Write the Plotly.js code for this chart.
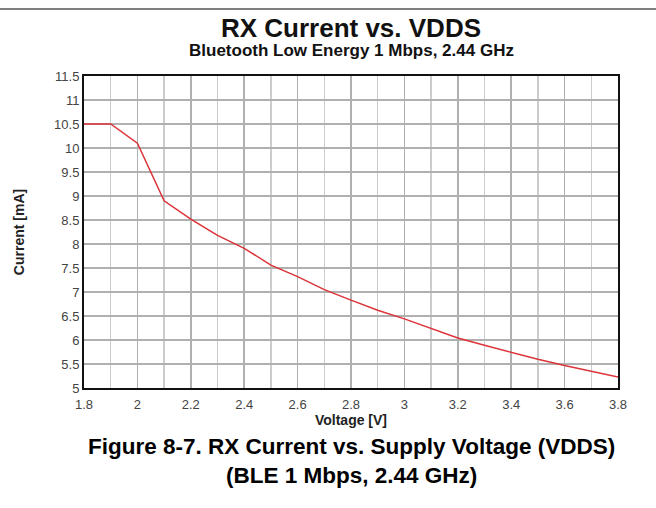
<!DOCTYPE html>
<html>
<head>
<meta charset="utf-8">
<script src="https://cdn.plot.ly/plotly-3.0.1.min.js"></script>
<style>
  html, body { margin: 0; padding: 0; background: #fff; }
  #chart { width: 656px; height: 508px; }
</style>
</head>
<body>
<div id="chart"></div>
<script>
const voltage = [1.8, 1.9, 2.0, 2.1, 2.2, 2.3, 2.4, 2.5, 2.6, 2.7, 2.8, 2.9, 3.0, 3.1, 3.2, 3.3, 3.4, 3.5, 3.6, 3.7, 3.8];
const currentMA = [10.5, 10.5, 10.1, 8.9, 8.52, 8.18, 7.91, 7.56, 7.32, 7.05, 6.83, 6.62, 6.44, 6.24, 6.04, 5.89, 5.74, 5.6, 5.47, 5.35, 5.23];

const chartTitle = 'RX Current vs. VDDS';
const chartSubtitle = 'Bluetooth Low Energy 1 Mbps, 2.44 GHz';
const xTitle = 'Voltage [V]';
const yTitle = 'Current [mA]';
const captionLine1 = 'Figure 8-7. RX Current vs. Supply Voltage (VDDS)';
const captionLine2 = '(BLE 1 Mbps, 2.44 GHz)';

const FONT = '"Liberation Sans", Arial, Helvetica, sans-serif';

const trace = {
  x: voltage,
  y: currentMA,
  type: 'scatter',
  mode: 'lines',
  line: { color: '#dc3339', width: 1.5 },
  hoverinfo: 'x+y',
  showlegend: false
};

const layout = {
  width: 656,
  height: 508,
  margin: { l: 84, r: 38, t: 76, b: 120 },
  paper_bgcolor: '#ffffff',
  plot_bgcolor: '#ffffff',
  font: { family: FONT, color: '#333' },
  showlegend: false,
  title: {
    text: '<b>' + chartTitle + '</b>',
    font: { family: FONT, size: 26, color: '#111' },
    x: 0.5, xref: 'paper',
    y: 1 - 28 / 508, yref: 'container', yanchor: 'middle'
  },
  xaxis: {
    range: [1.8, 3.8],
    tickmode: 'linear', tick0: 1.8, dtick: 0.2,
    ticks: 'outside', ticklen: 3, tickcolor: 'rgba(0,0,0,0)',
    showgrid: true, gridcolor: '#b0b0b0', gridwidth: 1.5,
    minor: { tickmode: 'linear', tick0: 1.8, dtick: 0.1, showgrid: true, gridcolor: '#cccccc', gridwidth: 1.5, ticks: '' },
    showline: true, mirror: true, linecolor: '#111', linewidth: 2,
    zeroline: false,
    tickfont: { family: FONT, size: 13, color: '#444' },
    title: { text: '<b>' + xTitle + '</b>', font: { family: FONT, size: 14, color: '#222' }, standoff: 3 }
  },
  yaxis: {
    range: [5, 11.5],
    tickmode: 'linear', tick0: 5, dtick: 0.5,
    ticks: '', showgrid: true, gridcolor: '#b0b0b0', gridwidth: 1.5,
    showline: true, mirror: true, linecolor: '#111', linewidth: 2,
    zeroline: false,
    tickfont: { family: FONT, size: 13, color: '#444' },
    title: { text: '<b>' + yTitle + '</b>', font: { family: FONT, size: 14, color: '#222' }, standoff: 26 }
  },
  shapes: [
    { type: 'line', xref: 'paper', yref: 'paper', x0: -84/534, x1: (656-84)/534, y0: (388-9)/312, y1: (388-9)/312,
      line: { color: '#555', width: 1.5 } }
  ],
  annotations: [
    { text: '<b>' + chartSubtitle + '</b>', xref: 'paper', yref: 'paper', x: 0.5, y: (388 - 50) / 312,
      xanchor: 'center', yanchor: 'middle', showarrow: false,
      font: { family: FONT, size: 17, color: '#111' } },
    { text: '<b>' + captionLine1 + '</b>', xref: 'paper', yref: 'paper', x: 0.5, y: (388 - 446) / 312,
      xanchor: 'center', yanchor: 'middle', showarrow: false,
      font: { family: FONT, size: 22.5, color: '#000' } },
    { text: '<b>' + captionLine2 + '</b>', xref: 'paper', yref: 'paper', x: 0.5, y: (388 - 476) / 312,
      xanchor: 'center', yanchor: 'middle', showarrow: false,
      font: { family: FONT, size: 22.5, color: '#000' } }
  ]
};

Plotly.newPlot('chart', [trace], layout, { displayModeBar: false, staticPlot: true });
</script>
</body>
</html>
